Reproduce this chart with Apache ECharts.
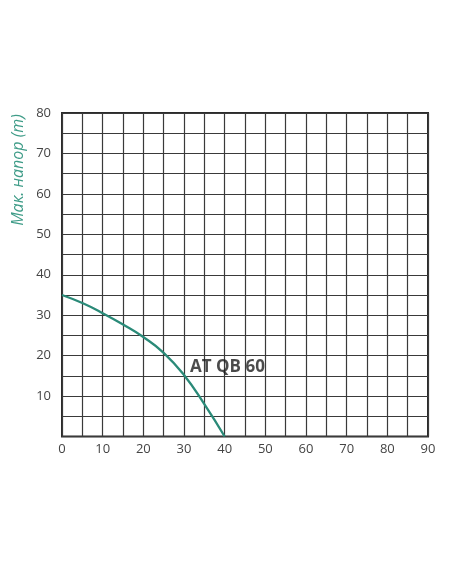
<!DOCTYPE html>
<html><head><meta charset="utf-8">
<script src="https://cdn.jsdelivr.net/npm/echarts@6/dist/echarts.min.js"></script>
<style>html,body{margin:0;padding:0;background:#fff}#c{width:452px;height:584px}</style>
</head><body><div id="c"></div>
<script>
const flowValues = [0, 5, 10, 15, 20, 25, 30, 35, 40];
const headValues = [35, 33, 30.5, 27.7, 24.6, 20.7, 15.2, 8, 0];
const curveName = 'AT QB 60';
const labelPos = [31.5, 17.2];
const yAxisTitle = 'Мак. напор (m)';

const chart = echarts.init(document.getElementById('c'));
chart.setOption({
  animation: false,
  grid: {left: 62, right: 24, top: 113, bottom: 147.5, show: true, borderColor: '#2b2b2b', borderWidth: 2, backgroundColor: 'transparent'},
  xAxis: {
    type: 'value', min: 0, max: 90, interval: 5,
    axisLine: {show: false}, axisTick: {show: false},
    splitLine: {show: true, lineStyle: {color: '#3a3a3a', width: 1.2}},
    axisLabel: {color: '#444', fontSize: 13, fontFamily: 'Open Sans', margin: 6,
      formatter: v => (v % 10 === 0 ? String(v) : '')}
  },
  yAxis: {
    type: 'value', min: 0, max: 80, interval: 5,
    axisLine: {show: false}, axisTick: {show: false},
    splitLine: {show: true, lineStyle: {color: '#3a3a3a', width: 1.2}},
    axisLabel: {color: '#444', fontSize: 13, fontFamily: 'Open Sans', margin: 11,
      formatter: v => (v % 10 === 0 && v !== 0 ? String(v) : '')}
  },
  graphic: [{
    type: 'text', x: 18, y: 170, rotation: Math.PI / 2,
    style: {text: yAxisTitle, fill: '#3f9c88', font: 'italic 16px "Open Sans"', textAlign: 'center', textVerticalAlign: 'middle'}
  }],
  series: [{
    type: 'line', smooth: 0.5, symbol: 'none',
    data: flowValues.map((x, i) => [x, headValues[i]]),
    lineStyle: {color: '#2a8a78', width: 2.3}
  }, {
    type: 'scatter', symbolSize: 0, data: [labelPos],
    label: {show: true, position: 'right', distance: 0, formatter: curveName,
      color: '#1e1e1e', fontSize: 17, fontWeight: 'bold', fontFamily: 'Open Sans'}
  }]
});
</script></body></html>
